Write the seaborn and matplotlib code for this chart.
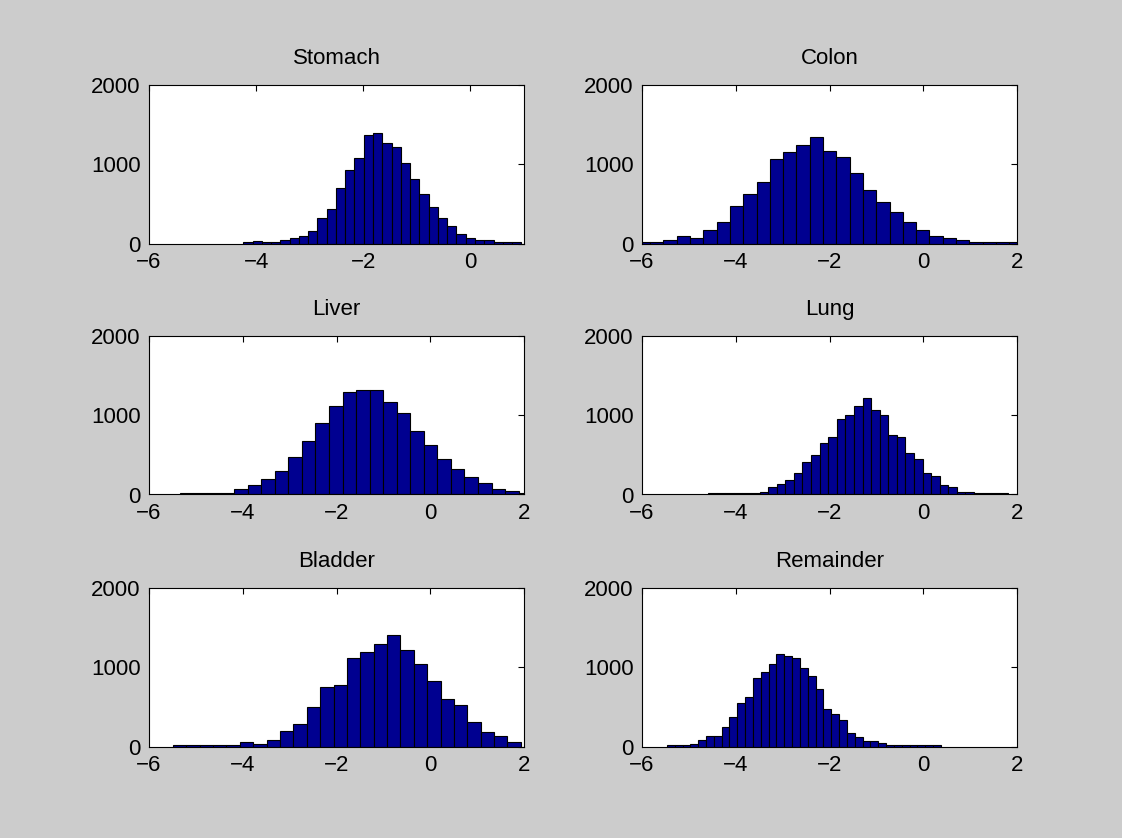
import numpy as np
import pandas as pd
import matplotlib
matplotlib.use("Agg")
import matplotlib.pyplot as plt
import seaborn as sns

sns.set_style("white")
plt.rcParams["font.family"] = ["Liberation Sans", "DejaVu Sans"]

# histogram counts; each panel has its own bin start / width
stomach_start, stomach_width = -4.24, 0.173
stomach_counts = [15, 30, 15, 15, 40, 70, 95, 160, 325, 430, 700, 930, 1085, 1370, 1400,
                  1265, 1215, 1010, 810, 630, 455, 325, 215, 115, 70, 40, 40, 15, 15, 15]

colon_start, colon_width = -6.11, 0.2837
colon_counts = [15, 18, 45, 95, 65, 165, 275, 475, 630, 780, 1060, 1160, 1237, 1339, 1163,
                1088, 885, 680, 522, 395, 274, 167, 90, 64, 43, 17, 17, 17, 17]

liver_start, liver_width = -5.34, 0.289
liver_counts = [15, 15, 15, 15, 64, 119, 191, 298, 477, 677, 906, 1111, 1289, 1315, 1315,
                1166, 1034, 804, 626, 451, 323, 221, 140, 64, 38, 20]

lung_start, lung_width = -4.59, 0.183
lung_counts = [17, 17, 17, 20, 17, 17, 34, 90, 137, 184, 265, 415, 496, 645, 726, 957, 1009,
               1111, 1214, 1064, 1009, 752, 726, 521, 444, 265, 239, 115, 90, 34, 34, 17, 17,
               17, 17]

bladder_start, bladder_width = -5.49, 0.2855
bladder_counts = [15, 15, 15, 15, 15, 56, 30, 82, 190, 289, 500, 754, 780, 1116, 1194, 1297,
                  1401, 1220, 1039, 832, 603, 522, 315, 185, 134, 52]

remainder_start, remainder_width = -5.47, 0.167
remainder_counts = [17, 17, 17, 30, 82, 138, 138, 241, 371, 552, 629, 862, 935, 1039, 1168, 1142,
                    1116, 987, 884, 728, 479, 406, 329, 171, 120, 68, 68, 43, 17, 17, 17, 17,
                    17, 17, 17]

panels = [
    ("Stomach", stomach_start, stomach_width, stomach_counts, 1),
    ("Colon", colon_start, colon_width, colon_counts, 2),
    ("Liver", liver_start, liver_width, liver_counts, 2),
    ("Lung", lung_start, lung_width, lung_counts, 2),
    ("Bladder", bladder_start, bladder_width, bladder_counts, 2),
    ("Remainder", remainder_start, remainder_width, remainder_counts, 2),
]

W, H = 1122, 838
fig = plt.figure(figsize=(W / 100, H / 100), dpi=100, facecolor="#cccccc")

col_left = [149, 642]
row_top = [85, 336, 588]
ax_w, ax_h = 375, 158.5

for i, (name, start, width, counts, xmax) in enumerate(panels):
    r, c = divmod(i, 2)
    ax = fig.add_axes([col_left[c] / W, 1 - (row_top[r] + ax_h) / H, ax_w / W, ax_h / H])
    ax.set_facecolor("white")

    n = len(counts)
    df = pd.DataFrame({"x": start + width * (np.arange(n) + 0.5), "count": counts})
    sns.histplot(data=df, x="x", weights="count", binwidth=width,
                 binrange=(start, start + width * n), ax=ax, color="#000090",
                 edgecolor="black", linewidth=0.8, alpha=1)

    ax.set_xlim(-6, xmax)
    ax.set_ylim(0, 2000)
    ax.set_xticks(np.arange(-6, xmax + 0.1, 2))
    ax.set_yticks([0, 1000, 2000])
    ax.set_xlabel("")
    ax.set_ylabel("")
    ax.set_title(name, fontsize=16, pad=15, color="black")
    ax.tick_params(direction="in", top=True, right=True, length=4, width=0.8,
                   labelsize=16, pad=6, colors="black")
    for sp in ax.spines.values():
        sp.set_color("black")
        sp.set_linewidth(0.8)
        sp.set_visible(True)

fig.savefig("out.png", dpi=100, facecolor=fig.get_facecolor())
